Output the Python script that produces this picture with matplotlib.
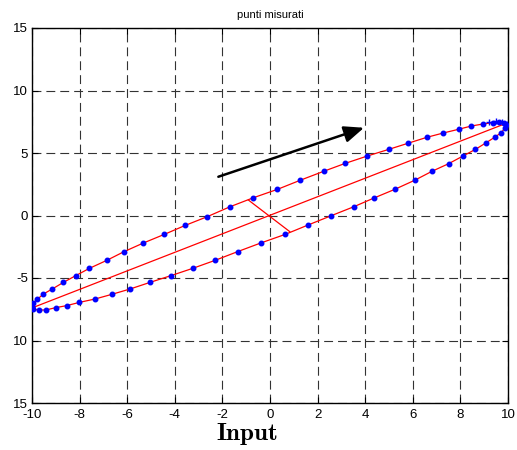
import numpy as np
import matplotlib
matplotlib.use("Agg")
import matplotlib.pyplot as plt

plt.rcParams['font.family'] = ['Liberation Sans', 'DejaVu Sans']
plt.rcParams['mathtext.fontset'] = 'cm'
plt.rcParams['axes.unicode_minus'] = False

# punti misurati (ellisse, percorsa in senso orario)
x_pts = [-10.0, -9.94, -9.78, -9.52, -9.15, -8.68, -8.16, -7.59, -6.86, -6.13,
         -5.32, -4.44, -3.56, -2.63, -1.68, -0.70, 0.31, 1.27, 2.26, 3.16,
         4.09, 4.99, 5.80, 6.60, 7.28, 7.93, 8.46, 8.95, 9.37, 9.61,
         9.82, 9.93, 9.86, 9.72, 9.44, 9.09, 8.63, 8.11, 7.51, 6.81,
         6.08, 5.24, 4.37, 3.52, 2.58, 1.60, 0.64, -0.39, -1.36, -2.31,
         -3.25, -4.16, -5.04, -5.88, -6.65, -7.35, -8.01, -8.54, -9.00, -9.42,
         -9.69, -9.94, -10.0]
y_pts = [-7.30, -7.00, -6.71, -6.28, -5.88, -5.35, -4.81, -4.23, -3.59, -2.89,
         -2.20, -1.51, -0.79, -0.09, 0.70, 1.42, 2.09, 2.82, 3.54, 4.17,
         4.76, 5.29, 5.78, 6.26, 6.60, 6.90, 7.16, 7.32, 7.43, 7.45,
         7.43, 7.24, 6.98, 6.63, 6.26, 5.83, 5.29, 4.76, 4.15, 3.54,
         2.82, 2.09, 1.40, 0.70, -0.01, -0.76, -1.51, -2.20, -2.89, -3.59,
         -4.23, -4.81, -5.35, -5.88, -6.31, -6.68, -6.95, -7.21, -7.37, -7.56,
         -7.56, -7.51, -7.30]

# punti "+" vicino all'estremo destro
x_plus = [9.20, 9.50, 9.75, 9.95]
y_plus = [7.45, 7.55, 7.50, 7.30]

# asse maggiore e asse minore
major_x = [-9.94, 9.93]
major_y = [-7.35, 7.38]
minor_x = [-0.91, 0.83]
minor_y = [1.24, -1.29]

# freccia (verso di percorrenza)
arrow_start = (-2.17, 3.1)
arrow_end = (3.95, 7.02)

xticks = [-10, -8, -6, -4, -2, 0, 2, 4, 6, 8, 10]
yticks = [-15, -10, -5, 0, 5, 10, 15]
ytick_labels = ['15', '10', '-5', '0', '5', '10', '15']

fig = plt.figure(figsize=(5.17, 4.5), dpi=100)
ax = fig.add_axes([32 / 517, 47 / 450, 476 / 517, 375 / 450])

ax.plot(x_pts, y_pts, color='red', linewidth=0.9, zorder=3)
ax.plot(major_x, major_y, color='red', linewidth=0.9, zorder=3)
ax.plot(minor_x, minor_y, color='red', linewidth=0.9, zorder=3)
ax.plot(x_pts, y_pts, linestyle='none', marker='.', color='blue',
        markersize=6.5, zorder=4)
ax.plot(x_plus, y_plus, linestyle='none', marker='+', color='blue',
        markersize=5, markeredgewidth=1, zorder=4)

ax.annotate('', xy=arrow_end, xytext=arrow_start,
            arrowprops=dict(arrowstyle='-|>,head_length=1.2,head_width=0.5',
                            color='black', linewidth=1.8, shrinkA=0, shrinkB=0),
            zorder=5)

ax.set_xlim(-10, 10)
ax.set_ylim(-15, 15)
ax.set_xticks(xticks)
ax.set_yticks(yticks)
ax.set_yticklabels(ytick_labels)
ax.tick_params(direction='in', length=4, width=0.8, labelsize=9.5,
               top=True, right=True, pad=3)
ax.tick_params(axis='x', pad=4)
ax.grid(True, color='0.2', linewidth=0.8, linestyle=(0, (8, 4.5)))
for s in ax.spines.values():
    s.set_linewidth(1.0)

ax.set_title('punti misurati', fontsize=8, pad=7)
fig.text(246.5 / 517, 10 / 450, r'$\mathbf{Input}$', fontsize=18,
         ha='center', va='baseline')

fig.savefig('out.png', dpi=100)
